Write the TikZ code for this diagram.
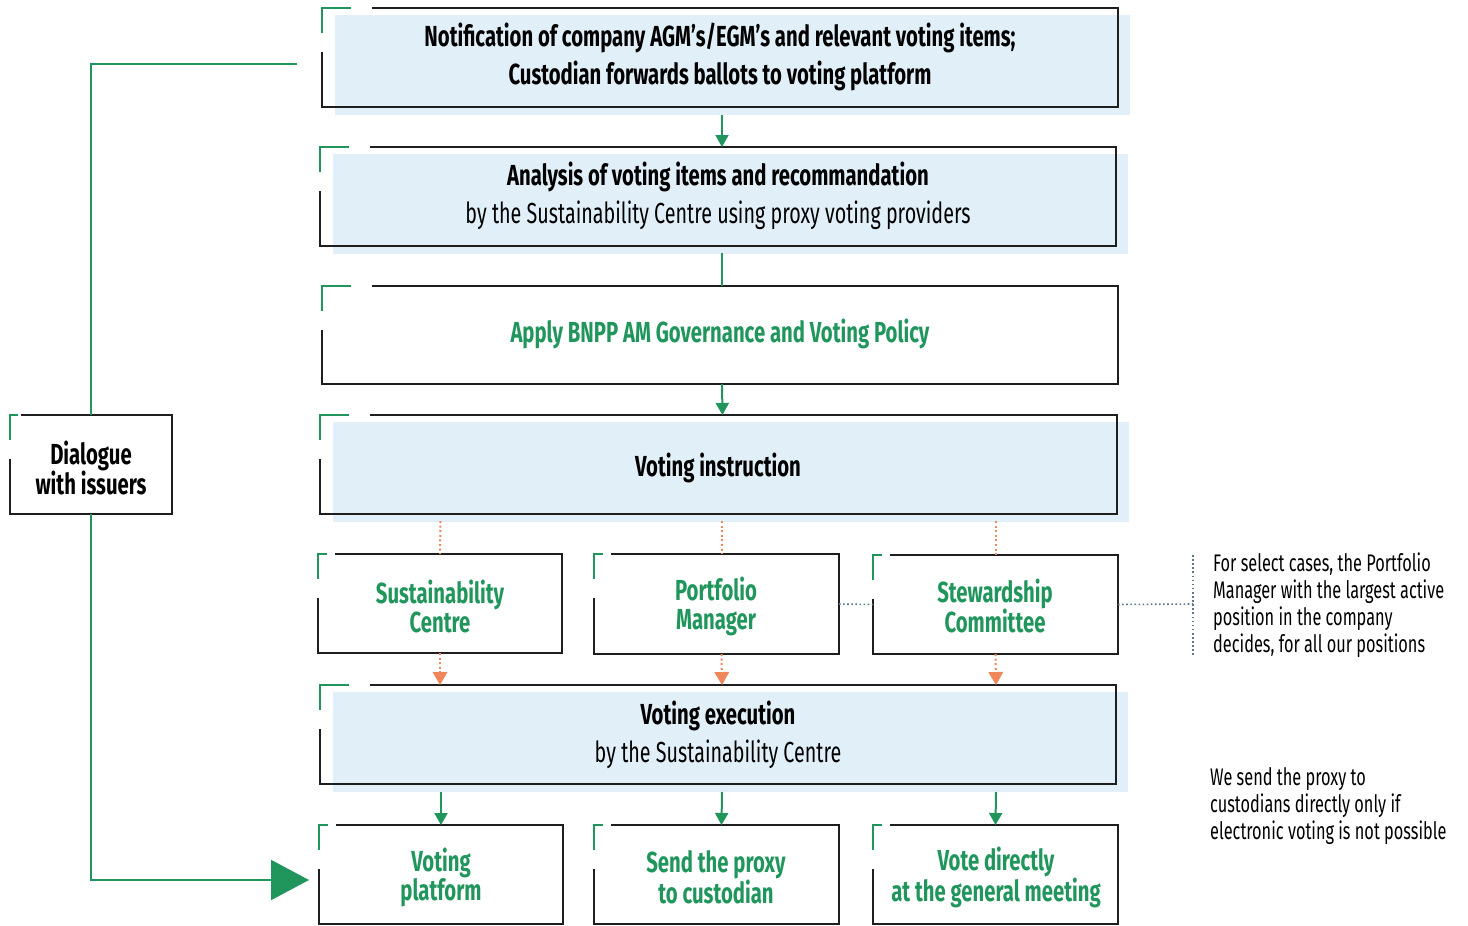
\documentclass[tikz,border=0pt]{standalone}
\usepackage{fontspec}
\setmainfont{Fira Sans}[FakeStretch=0.68,BoldFeatures={FakeStretch=0.70}]
\usetikzlibrary{calc,arrows.meta}
\definecolor{gr}{RGB}{32,150,92}
\definecolor{lb}{RGB}{225,240,248}
\definecolor{orng}{RGB}{240,135,90}
\definecolor{dotc}{RGB}{90,120,135}
\definecolor{frm}{RGB}{30,30,30}
\tikzset{
  boxline/.style={draw=frm,line width=2pt},
  gmark/.style={draw=gr,line width=2pt},
  gline/.style={draw=gr,line width=2pt},
  garrow/.style={draw=gr,line width=2pt,-{Triangle[length=12pt,width=13pt]}},
  odot/.style={draw=orng,line width=2pt,dash pattern=on 2pt off 2.6pt},
  oarrow/.style={odot,-{Triangle[length=13pt,width=15pt,fill=orng,line width=0pt]}},
  kdot/.style={draw=dotc,line width=1.6pt,dash pattern=on 1.6pt off 2.5pt},
  big/.style={font=\bfseries\fontsize{29}{38}\selectfont,align=center,inner sep=0},
  sub/.style={font=\fontsize{29}{38}\selectfont,align=center,inner sep=0},
  small/.style={font=\bfseries\fontsize{29}{29}\selectfont,align=center,inner sep=0,text=gr},
  note/.style={font=\fontsize{24}{27}\selectfont,align=left,inner sep=0,anchor=west},
}
% #1 name, #2 x1, #3 y1, #4 x2, #5 y2, #6 fill flag, #7 green mark length, #8 start of top line
\newcommand\mybox[8]{%
  \ifnum#6=1 \fill[lb] (#2+13,#3+7) rectangle (#4+12,#5+8);\fi
  \node[inner sep=0,outer sep=0,minimum width=#4pt-#2pt,minimum height=#5pt-#3pt,anchor=north west] (#1) at (#2,#3) {};
  \draw[boxline] ($(#1.north west)+(#8,0)$) -- (#1.north east) -- (#1.south east) -- (#1.south west) -- ($(#1.north west)+(0,44)$);
  \draw[gmark] ($(#1.north west)+(0,25)$) -- (#1.north west) -- ($(#1.north west)+(#7,0)$);
}
\begin{document}
\begin{tikzpicture}[x=1pt,y=-1pt]
\useasboundingbox (0,0) rectangle (1468,926);
\fill[white] (0,0) rectangle (1468,926);

\mybox{b1}{322}{8}{1118}{107}{1}{29}{50}
\mybox{b2}{320}{147}{1116}{246}{1}{29}{50}
\mybox{b3}{322}{286}{1118}{384}{0}{29}{50}
\mybox{b4}{320}{415}{1117}{514}{1}{29}{50}
\mybox{sc}{318}{554}{562}{653}{0}{9}{17}
\mybox{pm}{594}{554}{839}{654}{0}{9}{17}
\mybox{st}{873}{555}{1118}{654}{0}{9}{17}
\mybox{ve}{320}{685}{1116}{784}{1}{29}{50}
\mybox{vp}{319}{825}{563}{924}{0}{9}{17}
\mybox{sp}{594}{825}{839}{924}{0}{9}{17}
\mybox{vd}{873}{825}{1118}{924}{0}{9}{17}
\mybox{dlg}{10}{415}{172}{514}{0}{8}{11}

% texts
\node[big] (t1) at (720,57) {Notification of company AGM's/EGM's and relevant voting items;\\Custodian forwards ballots to voting platform};
\node[big] (t2a) at (718,177) {Analysis of voting items and recommandation};
\node[sub] (t2b) at (718,215) {by the Sustainability Centre using proxy voting providers};
\node[big,text=gr] (t3) at (720,334) {Apply BNPP AM Governance and Voting Policy};
\node[big] (t4) at (718,468) {Voting instruction};
\node[small] (tsc) at (440,606) {Sustainability\\Centre};
\node[small] (tpm) at (716,606) {Portfolio\\Manager};
\node[small] (tst) at (995,606) {Stewardship\\Committee};
\node[big] (t5a) at (718,716) {Voting execution};
\node[sub] (t5b) at (718,754) {by the Sustainability Centre};
\node[small] (tvp) at (441,877) {Voting\\platform};
\node[small] (tsp) at (716,877) {Send the proxy\\to custodian};
\node[small] (tvd) at (996,877) {Vote directly\\at the general meeting};
\node[small,text=black] (tdl) at (91,468) {Dialogue\\with issuers};
\node[note] (n1) at (1213,605) {For select cases, the Portfolio\\Manager with the largest active\\position in the company\\decides, for all our positions};
\node[note] (n2) at (1210,806) {We send the proxy to\\custodians directly only if\\electronic voting is not possible};

% main flow
\draw[garrow] ($(b1.south)+(2,8)$) -- ($(b2.north)+(4,0)$);
\draw[gline] ($(b2.south)+(4,7)$) -- ($(b3.north)+(2,0)$);
\draw[garrow] ($(b3.south)+(2,0)$) -- ($(b4.north)+(4,0)$);

\draw[odot] ($(b4.south)+(-278,7)$) -- (sc.north);
\draw[odot] ($(b4.south)+(3,7)$) -- ($(pm.north)+(5,0)$);
\draw[odot] ($(b4.south)+(277,7)$) -- ($(st.north)+(0,0)$);
\draw[oarrow] (sc.south) -- ($(ve.north)+(-278,0)$);
\draw[oarrow] ($(pm.south)+(5,0)$) -- ($(ve.north)+(4,0)$);
\draw[oarrow] (st.south) -- ($(ve.north)+(278,0)$);

\draw[garrow] ($(ve.south)+(-277,8)$) -- (vp.north);
\draw[garrow] ($(ve.south)+(4,8)$) -- ($(sp.north)+(5,0)$);
\draw[garrow] ($(ve.south)+(278,8)$) -- (vd.north);

% side connectors
\draw[kdot] (pm.east) -- (st.west);
\coordinate (br) at (1193,604);
\coordinate (brt) at (1193,555);
\coordinate (brb) at (1193,655);
\draw[kdot] (st.east) -- (br);
\draw[kdot] (brt) -- (brb);

% feedback loop
\coordinate (fb1) at (297,64);
\coordinate (fb2) at (309,880);
\draw[gline] (fb1) -| (dlg.north);
\draw[gline,-{Triangle[length=38pt,width=40pt]}] (dlg.south) |- (fb2);
\end{tikzpicture}
\end{document}
